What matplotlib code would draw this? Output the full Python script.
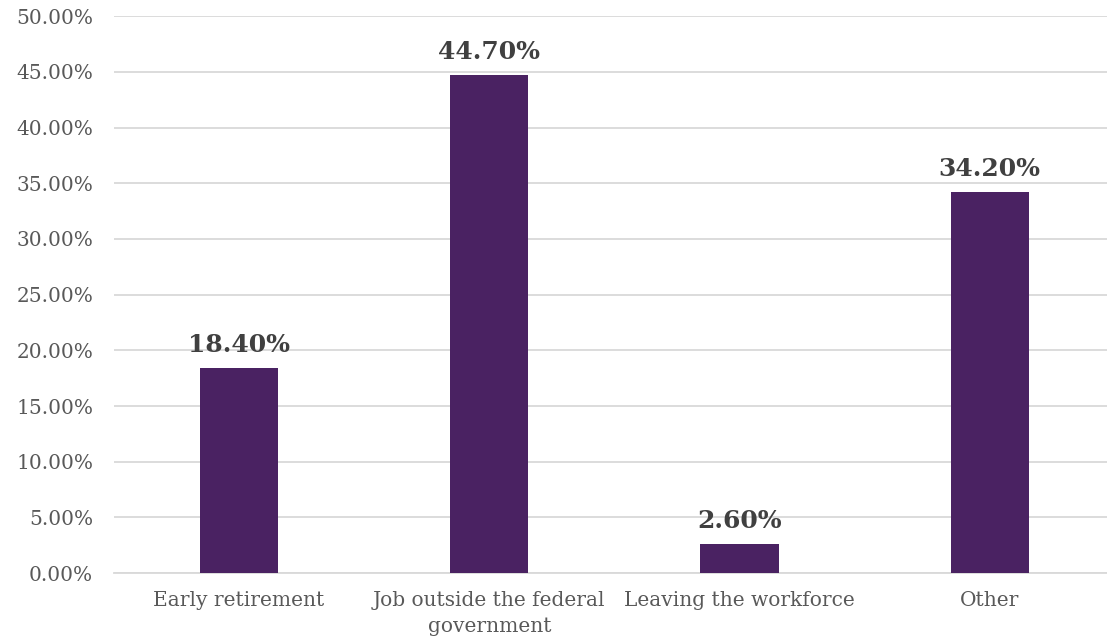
import matplotlib.pyplot as plt
from matplotlib.ticker import PercentFormatter

categories = ['Early retirement', 'Job outside the federal\ngovernment',
              'Leaving the workforce', 'Other']
shares = [18.4, 44.7, 2.6, 34.2]
yticks = [0, 5, 10, 15, 20, 25, 30, 35, 40, 45, 50]

plt.rcParams['font.family'] = ['DejaVu Serif']
text_color = '#595959'

fig = plt.figure(figsize=(11.07, 6.44), dpi=100)
ax = fig.add_axes([0.103, 0.11, 0.904, 0.865])

x = range(len(categories))
bars = ax.bar(x, shares, width=0.312, color='#4a2262', zorder=3)

for bar, value in zip(bars, shares):
    ax.text(bar.get_x() + bar.get_width() / 2, value + 1.0,
            '%.2f%%' % value, ha='center', va='bottom',
            fontsize=18, fontweight='bold', color='#404040')

ax.set_xlim(-0.5, 3.5)
ax.set_ylim(0, 50)
ax.set_yticks(yticks)
ax.yaxis.set_major_formatter(PercentFormatter(decimals=2))
ax.set_xticks(list(x))
ax.set_xticklabels(categories, linespacing=1.45)
ax.grid(axis='y', color='#d9d9d9', linewidth=1.3, zorder=0)
ax.tick_params(axis='both', length=0, labelsize=14.5, colors=text_color)
ax.tick_params(axis='y', pad=15)
ax.tick_params(axis='x', pad=13)
for side in ['top', 'right', 'left']:
    ax.spines[side].set_visible(False)
ax.spines['bottom'].set_color('#d9d9d9')
ax.spines['bottom'].set_linewidth(1.3)

fig.savefig('out.png')
